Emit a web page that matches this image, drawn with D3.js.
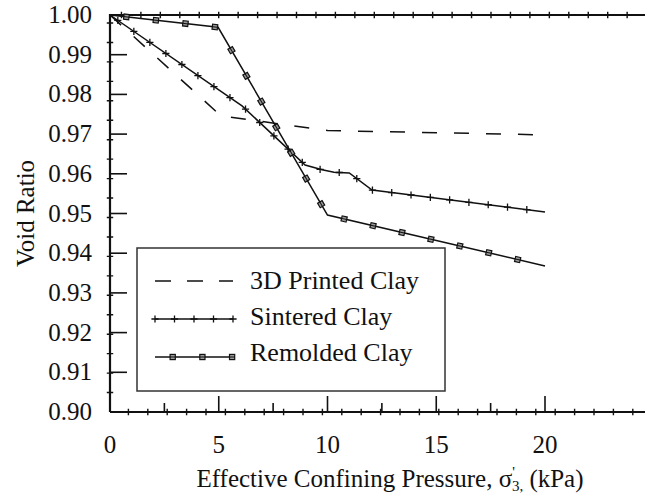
<!DOCTYPE html>
<html>
<head>
<meta charset="utf-8">
<script src="https://cdn.jsdelivr.net/npm/d3@7"></script>
<style>
  html, body { margin: 0; padding: 0; background: #fff; }
  #wrap { position: relative; width: 645px; height: 496px; overflow: hidden; }
  #labels { position: absolute; left: 0; top: 0; width: 645px; height: 496px; z-index: 2; }
  #chart { position: absolute; left: 0; top: 0; z-index: 1; display: block; }
  .lbl {
    position: absolute; white-space: nowrap; color: #111;
    font-family: 'Liberation Serif', 'Times New Roman', serif;
  }
  .sup { position: relative; top: -10px; font-size: 15px; }
  .sub { position: relative; top: 4px; font-size: 15px; margin-left: -3px; }
</style>
</head>
<body>
<div id="wrap">
  <div id="labels"></div>
  <svg id="chart" width="645" height="496"></svg>
</div>
<script>
// Void ratio vs. effective confining pressure for three clay types
const seriesNames = ["3D Printed Clay", "Sintered Clay", "Remolded Clay"];

const pressurePrinted = [0, 5.1, 10.0, 20.0];
const voidPrinted     = [1.000, 0.9746, 0.9709, 0.9698];

const pressureSintered = [0, 6.07, 8.97, 9.75, 10.3, 11.0, 12.05, 20.0];
const voidSintered     = [1.000, 0.9771, 0.9622, 0.9610, 0.9604, 0.9602, 0.9559, 0.9504];

const pressureRemolded = [0, 4.97, 10.0, 20.0];
const voidRemolded     = [1.000, 0.9969, 0.9496, 0.9368];

const xTickValues = [0, 5, 10, 15, 20];
const xMidTicks   = [2.5, 7.5, 12.5, 17.5];
const yTickValues = [0.90, 0.91, 0.92, 0.93, 0.94, 0.95, 0.96, 0.97, 0.98, 0.99, 1.00];

if (document.fonts && document.fonts.load) document.fonts.load("25px 'Liberation Serif'");

const svg = d3.select("#chart");
const labels = d3.select("#labels");
const x = d3.scaleLinear().domain([0, 25]).range([110, 653.75]);
const y = d3.scaleLinear().domain([0.90, 1.00]).range([412, 15]);

const line = d3.line().x(d => x(d[0])).y(d => y(d[1]));
const zip = (a, b) => a.map((v, i) => [v, b[i]]);

// baseline sits about 0.8375 em below the top of a one-line box
const topFor = (baseline, fs) => baseline - 0.8375 * fs;
const shift = { start: "translateX(0)", middle: "translateX(-50%)", end: "translateX(-100%)" };

// place markers at equal distances along a drawn path
function markersAlong(pathNode, offset, step, drawFn, g) {
  const L = pathNode.getTotalLength();
  for (let s = offset; s <= L + 0.01; s += step) {
    const p = pathNode.getPointAtLength(s);
    const a = pathNode.getPointAtLength(Math.max(0, s - 0.5));
    const b = pathNode.getPointAtLength(Math.min(L, s + 0.5));
    const ang = Math.atan2(b.y - a.y, b.x - a.x) * 180 / Math.PI;
    drawFn(g, p.x, p.y, ang);
  }
}
function plusMark(g, px, py, arm, w) {
  g.append("path")
    .attr("d", `M${px - arm},${py}H${px + arm}M${px},${py - arm}V${py + arm}`)
    .attr("stroke", "#111").attr("stroke-width", w).attr("fill", "none");
}
const crossSmall = (g, px, py) => plusMark(g, px, py, 3.2, 1.4);
const crossCurve = (g, px, py) => plusMark(g, px, py, 3.6, 1.3);
const squareMark = (g, px, py, ang) => {
  g.append("rect")
    .attr("x", -2.6).attr("y", -2.6).attr("width", 5.2).attr("height", 5.2)
    .attr("transform", `translate(${px},${py}) rotate(${ang})`)
    .attr("fill", "#9a9a9a").attr("stroke", "#111").attr("stroke-width", 1.2);
  g.append("line")
    .attr("x1", -2.6).attr("x2", 2.6).attr("y1", 0).attr("y2", 0)
    .attr("transform", `translate(${px},${py}) rotate(${ang})`)
    .attr("stroke", "#111").attr("stroke-width", 1);
};

// ---- frame: left axis and top rule, bottom axis, all with cross marks
const frame = svg.append("g");
const leftTop = frame.append("path")
  .attr("d", `M${x(0)},${y(0.90)}V${y(1.00)}H${x(25)}`)
  .attr("fill", "none").attr("stroke", "#111").attr("stroke-width", 2.2);
markersAlong(leftTop.node(), 19.45, 19.45, crossSmall, frame);

const bottom = frame.append("path")
  .attr("d", `M${x(0)},${y(0.90)}H${x(25)}`)
  .attr("fill", "none").attr("stroke", "#111").attr("stroke-width", 2.2);
markersAlong(bottom.node(), 18.4, 19.4, crossSmall, frame);

// major / mid ticks on x axis
frame.selectAll(".xmaj").data(xTickValues.filter(v => v > 0)).join("line")
  .attr("x1", d => x(d)).attr("x2", d => x(d))
  .attr("y1", y(0.90)).attr("y2", y(0.90) - 16)
  .attr("stroke", "#111").attr("stroke-width", 1.6);
frame.selectAll(".xmid").data(xMidTicks).join("line")
  .attr("x1", d => x(d)).attr("x2", d => x(d))
  .attr("y1", y(0.90)).attr("y2", y(0.90) - 9)
  .attr("stroke", "#111").attr("stroke-width", 1.6);
// y ticks
frame.selectAll(".ymaj").data(yTickValues.filter(v => v > 0.90 && v < 1.00)).join("line")
  .attr("x1", x(0)).attr("x2", x(0) + 17)
  .attr("y1", d => y(d)).attr("y2", d => y(d))
  .attr("stroke", "#111").attr("stroke-width", 1.6);

// ---- data series
const plot = svg.append("g");
plot.append("path")
  .attr("d", line(zip(pressurePrinted, voidPrinted)))
  .attr("fill", "none").attr("stroke", "#111").attr("stroke-width", 1.5)
  .attr("stroke-dasharray", "15,17");

const sPath = plot.append("path")
  .attr("d", line(zip(pressureSintered, voidSintered)))
  .attr("fill", "none").attr("stroke", "#111").attr("stroke-width", 1.5);
markersAlong(sPath.node(), 9.5, 19.45, crossCurve, plot);

const rPath = plot.append("path")
  .attr("d", line(zip(pressureRemolded, voidRemolded)))
  .attr("fill", "none").attr("stroke", "#111").attr("stroke-width", 1.5);
markersAlong(rPath.node(), 16.5, 29.7, squareMark, plot);

// ---- legend box and samples
const lg = svg.append("g");
lg.append("rect").attr("x", 137).attr("y", 248).attr("width", 308).attr("height", 143)
  .attr("fill", "#fff").attr("stroke", "#333").attr("stroke-width", 1.5);
const rows = [281, 319, 357];
const baselines = [289.5, 325.5, 361.5];
const lx0 = 155, lx1 = 233;

lg.append("line").attr("x1", lx0).attr("x2", lx1).attr("y1", rows[0]).attr("y2", rows[0])
  .attr("stroke", "#111").attr("stroke-width", 1.5).attr("stroke-dasharray", "16,16");
const l2 = lg.append("path").attr("d", `M${lx0},${rows[1]}H${lx1}`)
  .attr("stroke", "#111").attr("stroke-width", 1.5).attr("fill", "none");
markersAlong(l2.node(), 0, 19.5, crossCurve, lg);
const l3 = lg.append("path").attr("d", `M${lx0},${rows[2]}H${lx1}`)
  .attr("stroke", "#111").attr("stroke-width", 1.5).attr("fill", "none");
markersAlong(l3.node(), 17.7, 29.7, squareMark, lg);

// ---- text layer
const FS = 25;
labels.selectAll(".ylab").data(yTickValues).join("div")
  .attr("class", "lbl ylab")
  .style("font-size", FS + "px").style("line-height", FS + "px")
  .style("left", "92px")
  .style("top", d => topFor(y(d) + 8, FS) + "px")
  .style("transform", shift.end)
  .text(d => d3.format(".2f")(d));

labels.selectAll(".xlab").data(xTickValues).join("div")
  .attr("class", "lbl xlab")
  .style("font-size", FS + "px").style("line-height", FS + "px")
  .style("left", d => x(d) + "px")
  .style("top", topFor(453, FS) + "px")
  .style("transform", shift.middle)
  .text(d => d);

labels.selectAll(".ltxt").data(seriesNames).join("div")
  .attr("class", "lbl ltxt")
  .style("font-size", "26px").style("line-height", "26px")
  .style("left", lx1 + 17 + "px")
  .style("top", (d, i) => topFor(baselines[i], 26) + "px")
  .text(d => d);

const xt = labels.append("div")
  .attr("class", "lbl")
  .style("font-size", FS + "px").style("line-height", FS + "px")
  .style("left", "390px")
  .style("top", topFor(487, FS) + "px")
  .style("transform", shift.middle);
xt.append("span").text("Effective Confining Pressure, σ");
xt.append("span").attr("class", "sup").text("'");
xt.append("span").attr("class", "sub").text("3,");
xt.append("span").text(" (kPa)");

// rotated title: baseline at x = 33, centred on the plot height
labels.append("div")
  .attr("class", "lbl")
  .style("font-size", FS + "px").style("line-height", FS + "px")
  .style("left", (33 - (0.8375 - 0.5) * FS) + "px")
  .style("top", (213 - FS / 2) + "px")
  .style("transform", "translateX(-50%) rotate(-90deg)")
  .text("Void Ratio");
</script>
</body>
</html>
